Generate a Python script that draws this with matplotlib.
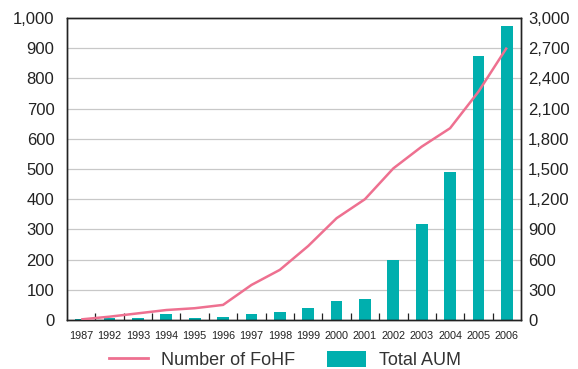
import numpy as np
import matplotlib.pyplot as plt
from matplotlib.patches import Patch
from matplotlib.lines import Line2D

plt.rcParams['font.family'] = ['Liberation Sans', 'DejaVu Sans']

# data
years = ['1987', '1992', '1993', '1994', '1995', '1996', '1997', '1998',
         '1999', '2000', '2001', '2002', '2003', '2004', '2005', '2006']
num_fohf = [2, 11, 22, 33, 39, 50, 116, 166, 245, 337, 400, 502, 574, 635, 756, 902]
total_aum = [5, 15, 23, 63, 23, 30, 63, 83, 122, 192, 209, 600, 955, 1470, 2620, 2920]

teal = '#00AFAE'
pink = '#EE7090'
txt = '#222222'

fig = plt.figure(figsize=(5.78, 3.69), dpi=100)
ax = fig.add_axes([0.1159, 0.1328, 0.7855, 0.8184])
ax2 = ax.twinx()

x = np.arange(len(years))

ax2.bar(x, total_aum, width=0.41, color=teal, zorder=2)
ax.plot(x, num_fohf, color=pink, lw=1.8, zorder=3, solid_capstyle='butt')
ax.set_zorder(ax2.get_zorder() + 1)
ax.patch.set_visible(False)

ax.set_xlim(-0.5, len(years) - 0.5)
ax.set_ylim(0, 1000)
ax2.set_ylim(0, 3000)

ax.set_yticks(np.arange(0, 1001, 100))
ax.set_yticklabels([f'{v:,}' for v in range(0, 1001, 100)])
ax2.set_yticks(np.arange(0, 3001, 300))
ax2.set_yticklabels([f'{v:,}' for v in range(0, 3001, 300)])

# grid drawn behind bars on the bar axis
for v in range(300, 3000, 300):
    ax2.axhline(v, color='#c8c8c8', lw=0.9, zorder=0)

ax.tick_params(axis='y', length=0, pad=9, labelsize=12, colors=txt)
ax2.tick_params(axis='y', length=0, pad=5, labelsize=12, colors=txt)

# x labels at centres, tick marks at category boundaries
ax.set_xticks(x)
ax.set_xticklabels(years)
ax.set_xticks(np.arange(0.5, len(years) - 1, 1), minor=True)
ax.tick_params(axis='x', which='major', length=0, pad=8, labelsize=7.8, colors=txt)
ax.tick_params(axis='x', which='minor', direction='in', length=5, width=0.9, color='#222222')

for a in (ax, ax2):
    for s in a.spines.values():
        s.set_color('#222222')
        s.set_linewidth(1.0)

handles = [Line2D([0], [0], color=pink, lw=2),
           Patch(facecolor=teal)]
fig.legend(handles, ['Number of FoHF', 'Total AUM'], loc='lower center',
           bbox_to_anchor=(0.493, -0.045), ncol=2, frameon=False, fontsize=13,
           handlelength=2.15, handleheight=1.0, handletextpad=0.7,
           columnspacing=1.8, labelcolor='#333333')

fig.savefig('out.png', dpi=100)
